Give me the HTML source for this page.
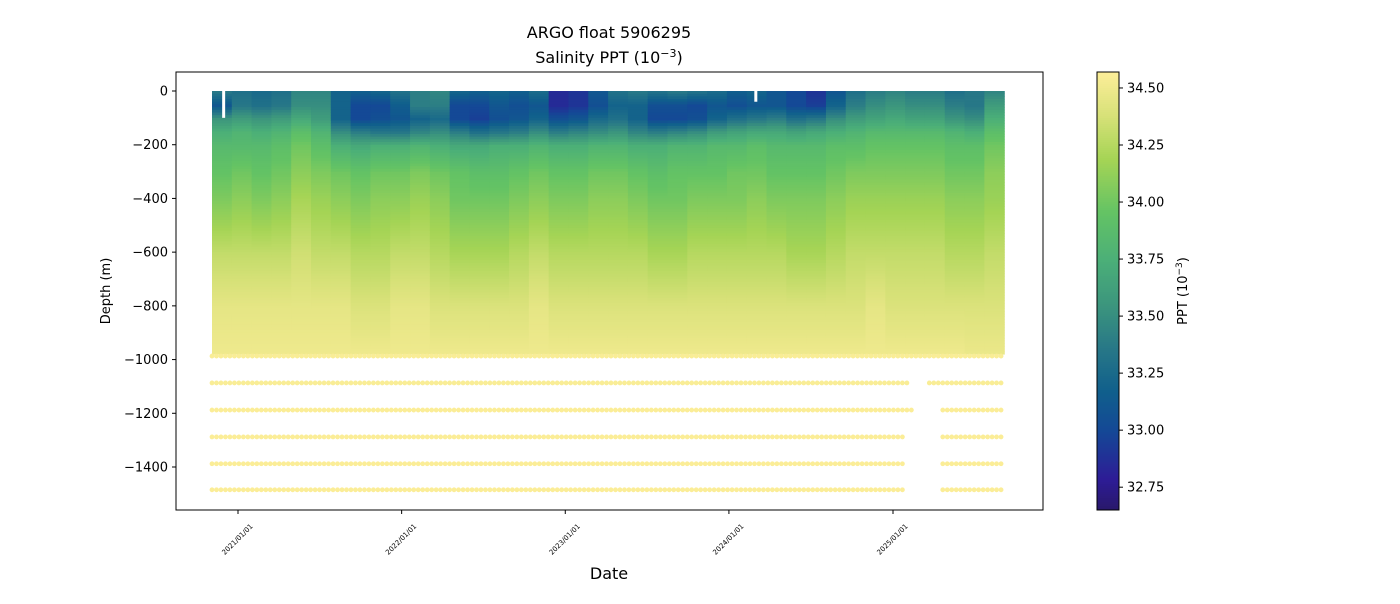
<!DOCTYPE html>
<html><head><meta charset="utf-8"><style>
body{margin:0;background:#fff;font-family:"DejaVu Sans","Liberation Sans",sans-serif}
svg text{font-family:"DejaVu Sans","Liberation Sans",sans-serif}
</style></head><body>
<svg id="c" width="1400" height="600" xmlns="http://www.w3.org/2000/svg">
<rect width="1400" height="600" fill="#fff"/>
<text x="609" y="38" font-size="16" text-anchor="middle">ARGO float 5906295</text>
<text x="609" y="63" font-size="16" text-anchor="middle">Salinity PPT (10<tspan dy="-6" font-size="11">−3</tspan><tspan dy="6">)</tspan></text>
<g id="plot"></g>
<g id="axes"></g>
<g id="cbar"></g>
<text x="609" y="579" font-size="16" text-anchor="middle">Date</text>
<text transform="translate(110,291) rotate(-90)" font-size="13" text-anchor="middle">Depth (m)</text>
<text transform="translate(1187,291) rotate(-90)" font-size="13" text-anchor="middle">PPT (10<tspan dy="-5" font-size="9">−3</tspan><tspan dy="5">)</tspan></text>
</svg>
<script>
// ---- data ----
const startDate = "2020-11-04";
const endDate = "2025-09-06";
const levelDepths = [0,-50,-100,-150,-200,-300,-400,-600,-800,-980];
const sal0   = [33.35,33.3,33.25,33.3,33.45,33.45,33.2,33.15,33.2,33.3,33.4,33.45,33.2,33.15,33.2,33.15,33.25,32.85,32.9,33.1,33.3,33.35,33.3,33.35,33.3,33.25,33.15,33.2,33.1,33.0,32.9,33.1,33.3,33.4,33.45,33.4,33.4,33.3,33.35,33.45];
const sal50  = [33.1,33.35,33.3,33.35,33.5,33.5,33.2,33.0,33.0,33.15,33.4,33.4,33.0,33.0,33.1,33.05,33.1,32.85,32.9,33.05,33.2,33.2,33.05,33.05,33.0,33.1,33.05,33.1,33.1,33.0,32.95,33.2,33.4,33.5,33.55,33.5,33.5,33.4,33.35,33.6];
const sal100 = [33.55,33.6,33.55,33.6,33.7,33.6,33.2,33.0,33.05,33.1,33.2,33.25,33.0,32.95,33.05,33.1,33.2,33.05,33.1,33.25,33.3,33.2,33.0,33.0,33.05,33.2,33.3,33.35,33.4,33.3,33.35,33.5,33.6,33.65,33.7,33.65,33.65,33.55,33.5,33.75];
const sal150 = [33.75,33.8,33.75,33.8,33.9,33.8,33.5,33.4,33.35,33.35,33.45,33.5,33.4,33.3,33.35,33.4,33.5,33.4,33.45,33.5,33.55,33.45,33.4,33.45,33.5,33.6,33.65,33.7,33.7,33.65,33.7,33.75,33.8,33.85,33.85,33.85,33.85,33.8,33.75,33.9];
const sal200 = [33.85,33.85,33.85,33.9,34.0,33.9,33.75,33.7,33.75,33.75,33.8,33.75,33.7,33.7,33.75,33.75,33.8,33.75,33.75,33.8,33.8,33.75,33.75,33.8,33.8,33.85,33.85,33.9,33.85,33.85,33.85,33.9,33.9,33.95,33.95,33.95,33.95,33.9,33.9,34.0];
const sal300 = [33.95,34.0,33.95,34.0,34.1,34.05,34.0,33.95,34.0,34.0,34.05,34.0,33.95,33.9,33.9,33.95,34.0,33.95,33.95,34.0,34.0,33.95,33.9,33.95,33.95,33.95,34.0,34.0,33.95,33.95,33.95,34.0,34.05,34.05,34.05,34.05,34.05,34.0,34.0,34.1];
const sal400 = [34.05,34.1,34.05,34.1,34.2,34.15,34.1,34.05,34.1,34.1,34.15,34.1,34.0,34.0,34.0,34.05,34.1,34.05,34.05,34.1,34.1,34.05,34.0,34.0,34.05,34.05,34.05,34.1,34.05,34.05,34.05,34.1,34.15,34.15,34.15,34.15,34.15,34.1,34.1,34.15];
const sal600 = [34.3,34.3,34.3,34.3,34.35,34.3,34.3,34.25,34.25,34.3,34.3,34.25,34.2,34.2,34.2,34.25,34.3,34.25,34.25,34.25,34.25,34.25,34.2,34.2,34.25,34.25,34.25,34.25,34.25,34.2,34.2,34.25,34.3,34.3,34.3,34.3,34.3,34.25,34.25,34.3];
const sal800 = [34.45,34.45,34.45,34.45,34.45,34.45,34.45,34.4,34.4,34.45,34.45,34.4,34.4,34.4,34.4,34.4,34.45,34.4,34.4,34.4,34.4,34.4,34.4,34.4,34.4,34.4,34.4,34.4,34.4,34.4,34.4,34.4,34.4,34.45,34.4,34.4,34.4,34.4,34.4,34.4];
const sal980 = [34.5,34.5,34.5,34.5,34.5,34.5,34.5,34.5,34.5,34.5,34.5,34.5,34.5,34.5,34.5,34.5,34.5,34.5,34.5,34.5,34.5,34.5,34.5,34.5,34.5,34.5,34.5,34.5,34.5,34.5,34.5,34.5,34.5,34.5,34.5,34.5,34.5,34.5,34.48,34.48];
const deepDepths = [-987,-1087,-1188,-1288,-1388,-1485];
const deepSal = [34.55,34.55,34.56,34.56,34.56,34.56];
const deepGapStart = ["2025-02-08","2025-02-08","2025-02-12","2025-01-28","2025-01-28","2025-01-28"];
const deepGapEnd   = ["2025-02-10","2025-03-15","2025-04-20","2025-04-20","2025-04-20","2025-04-20"];
const missingDates = ["2020-11-30","2024-03-01"];
const missingDepth = [-100,-40];
const xTickLabels = ["2021/01/01","2022/01/01","2023/01/01","2024/01/01","2025/01/01"];
const yTicks = [0,-200,-400,-600,-800,-1000,-1200,-1400];
const cbTicks = [32.75,33.00,33.25,33.50,33.75,34.00,34.25,34.50];
const profileStepDays = 10;

// ---- scales ----
const NS="http://www.w3.org/2000/svg";
const PX0=176, PX1=1043, PY0=72, PY1=510;
const d2021=Date.parse("2021-01-01"), d2025=Date.parse("2025-01-01");
function xs(ds){const t=Date.parse(ds.replace(/\//g,"-"));return 238+(t-d2021)/(d2025-d2021)*(893-238);}
function xt(t){return 238+(t-d2021)/(d2025-d2021)*(893-238);}
function ys(d){return 91-d*(376/1400);}
const CMIN=32.65, CMAX=34.57;
const stops=[[0,[41,24,107]],[0.07,[45,28,150]],[0.18,[20,72,150]],[0.27,[16,95,140]],[0.37,[40,120,135]],[0.47,[60,150,125]],[0.57,[75,175,120]],[0.68,[100,195,100]],[0.8,[165,212,85]],[0.9,[215,225,120]],[1,[253,238,153]]];
function col(v){let f=(v-CMIN)/(CMAX-CMIN);f=Math.max(0,Math.min(1,f));
 for(let i=1;i<stops.length;i++){if(f<=stops[i][0]){const a=stops[i-1],b=stops[i];const u=(f-a[0])/(b[0]-a[0]);
 return "rgb("+a[1].map((c,k)=>Math.round(c+(b[1][k]-c)*u)).join(",")+")";}}return "rgb(253,238,153)";}
function mk(tag,attrs,parent){const e=document.createElementNS(NS,tag);for(const k in attrs)e.setAttribute(k,attrs[k]);parent.appendChild(e);return e;}

const plot=document.getElementById("plot");
mk("rect",{x:PX0,y:PY0,width:PX1-PX0,height:PY1-PY0,fill:"#fff"},plot);
const levels=[sal0,sal50,sal100,sal150,sal200,sal300,sal400,sal600,sal800,sal980];
const nb=sal0.length;
const t0=Date.parse(startDate), t1=Date.parse(endDate);
const bw=(t1-t0)/nb;
for(let i=0;i<nb;i++){
 const xa=xt(t0+i*bw), xb=xt(t0+(i+1)*bw);
 for(let d=0; d>-980; d-=10){
  let j=0; while(j<levelDepths.length-2 && d<=levelDepths[j+1]) j++;
  const u=(levelDepths[j]-d)/(levelDepths[j]-levelDepths[j+1]);
  const v=levels[j][i]+(levels[j+1][i]-levels[j][i])*u;
  const r=mk("rect",{x:xa.toFixed(2),y:ys(d).toFixed(2),width:(xb-xa+0.6).toFixed(2),height:(376/140+0.4).toFixed(2),fill:col(v)},plot);
  
  
 }
}
for(let k=0;k<missingDates.length;k++){
 const r=mk("rect",{x:xs(missingDates[k])-1.5,y:ys(0)-1,width:3,height:ys(missingDepth[k])-ys(0)+1,fill:"#fff"},plot);
 
 
}
const day=86400000;
for(let r=0;r<deepDepths.length;r++){
 const gs=Date.parse(deepGapStart[r]), ge=Date.parse(deepGapEnd[r]);
 for(let t=t0;t<=t1;t+=profileStepDays*day){
  if(t>gs&&t<ge) continue;
  const c=mk("circle",{cx:xt(t).toFixed(2),cy:ys(deepDepths[r]).toFixed(2),r:2.4,fill:col(deepSal[r])},plot);
  
  
 }
}

// ---- axes ----
const ax=document.getElementById("axes");
const fr=mk("rect",{x:PX0,y:PY0,width:PX1-PX0,height:PY1-PY0,fill:"none",stroke:"#000","stroke-width":1},ax);


yTicks.forEach(v=>{const y=ys(v);
 mk("line",{x1:PX0-4,x2:PX0,y1:y,y2:y,stroke:"#000"},ax);
 const t=mk("text",{x:PX0-8,y:y+4.5,"font-size":13,"text-anchor":"end"},ax);t.textContent=(v<0?"−":"")+Math.abs(v);
 
 
});
xTickLabels.forEach(s=>{const x=xs(s);
 mk("line",{x1:x,x2:x,y1:PY1,y2:PY1+4,stroke:"#000"},ax);
 const t=mk("text",{transform:`translate(${x+1},${PY1+31}) rotate(-45)`,"font-size":7,"text-anchor":"middle"},ax);t.textContent=s;
 
 
});

// ---- colorbar ----
const cb=document.getElementById("cbar");
const CBX=1097,CBW=22;
function cy(v){return 510-(v-CMIN)/(CMAX-CMIN)*438;}
for(let y=72;y<510;y+=2){const v=CMIN+(510-y-1)/438*(CMAX-CMIN);
 mk("rect",{x:CBX,y:y,width:CBW,height:2.5,fill:col(v)},cb);}
mk("rect",{x:CBX,y:72,width:CBW,height:438,fill:"none",stroke:"#000"},cb);
cbTicks.forEach(v=>{const y=cy(v);
 mk("line",{x1:CBX+CBW,x2:CBX+CBW+4,y1:y,y2:y,stroke:"#000"},cb);
 const t=mk("text",{x:CBX+CBW+8,y:y+4.5,"font-size":13},cb);t.textContent=v.toFixed(2);
 
 
});
</script>
</body></html>
